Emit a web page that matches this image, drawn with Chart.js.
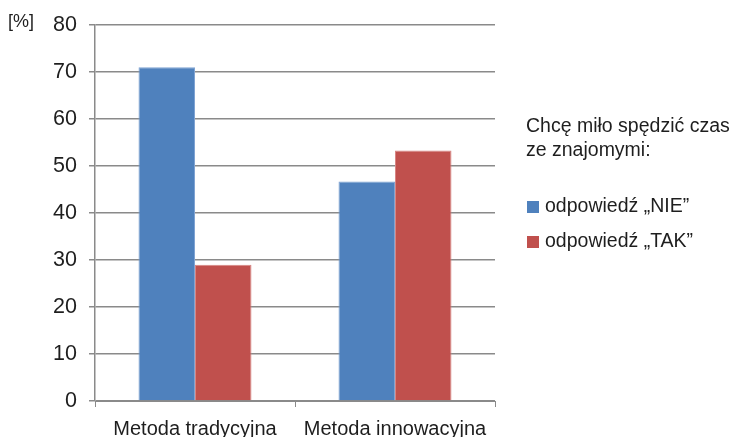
<!DOCTYPE html>
<html lang="pl">
<head>
<meta charset="UTF-8">
<title>Chcę miło spędzić czas ze znajomymi</title>
<script src="https://cdn.jsdelivr.net/npm/chart.js@4.4.0/dist/chart.umd.min.js"></script>
<style>
  body { margin: 0; background: #fff; }
  #wrap { position: relative; width: 733px; height: 437px; }
</style>
</head>
<body>
<div id="wrap"><canvas id="chart" width="733" height="437"></canvas></div>
<script>
const categories = ['Metoda tradycyjna', 'Metoda innowacyjna'];
const nieValues = [71, 46.7];
const takValues = [29, 53.3];
const seriesLabels = ['odpowiedź „NIE”', 'odpowiedź „TAK”'];
const legendTitle = ['Chcę miło spędzić czas', 'ze znajomymi:'];
const yUnit = '[%]';

const FONT = 'Liberation Sans, Arial, sans-serif';
const gridGray = '#8a8a8a';

// legend + unit label drawn next to the plot
const sideText = {
  id: 'sideText',
  afterDraw(chart) {
    const ctx = chart.ctx;
    ctx.save();
    ctx.fillStyle = '#1e1e1e';
    ctx.textBaseline = 'middle';
    ctx.textAlign = 'left';
    ctx.font = '18px ' + FONT;
    ctx.fillText(yUnit, 8, 22);

    ctx.font = '19.5px ' + FONT;
    ctx.fillText(legendTitle[0], 526, 127);
    ctx.fillText(legendTitle[1], 526, 151);
    chart.data.datasets.forEach((ds, i) => {
      const y = 207 + i * 35;
      ctx.fillStyle = ds.backgroundColor;
      ctx.fillRect(527, y - 6, 12, 12);
      ctx.fillStyle = '#1e1e1e';
      ctx.fillText(ds.label, 545, y);
    });
    ctx.restore();
  }
};

new Chart(document.getElementById('chart'), {
  type: 'bar',
  data: {
    labels: categories,
    datasets: [
      { label: seriesLabels[0], data: nieValues, backgroundColor: '#4F81BD', borderColor: '#7fa3d3', borderWidth: 1 },
      { label: seriesLabels[1], data: takValues, backgroundColor: '#C0504D', borderColor: '#d88583', borderWidth: 1 }
    ]
  },
  options: {
    responsive: false,
    animation: false,
    layout: { padding: { top: 21, right: 238, left: 0, bottom: 0 } },
    plugins: { legend: { display: false }, tooltip: { enabled: false } },
    datasets: { bar: { categoryPercentage: 0.565, barPercentage: 1 } },
    scales: {
      x: {
        grid: { offset: true, drawOnChartArea: false, color: gridGray, tickLength: 6 },
        border: { color: gridGray },
        ticks: { color: '#1e1e1e', font: { family: FONT, size: 20 }, padding: 10 },
        afterFit(scale) { scale.height = 36; }
      },
      y: {
        min: 0, max: 80,
        ticks: { stepSize: 10, color: '#1e1e1e', font: { family: FONT, size: 21.5 }, padding: 12 },
        grid: { color: gridGray, lineWidth: 1.5, tickLength: 6 },
        border: { color: gridGray, width: 1.5 },
        afterFit(scale) { scale.width = 95; }
      }
    }
  },
  plugins: [sideText]
});
</script>
</body>
</html>
